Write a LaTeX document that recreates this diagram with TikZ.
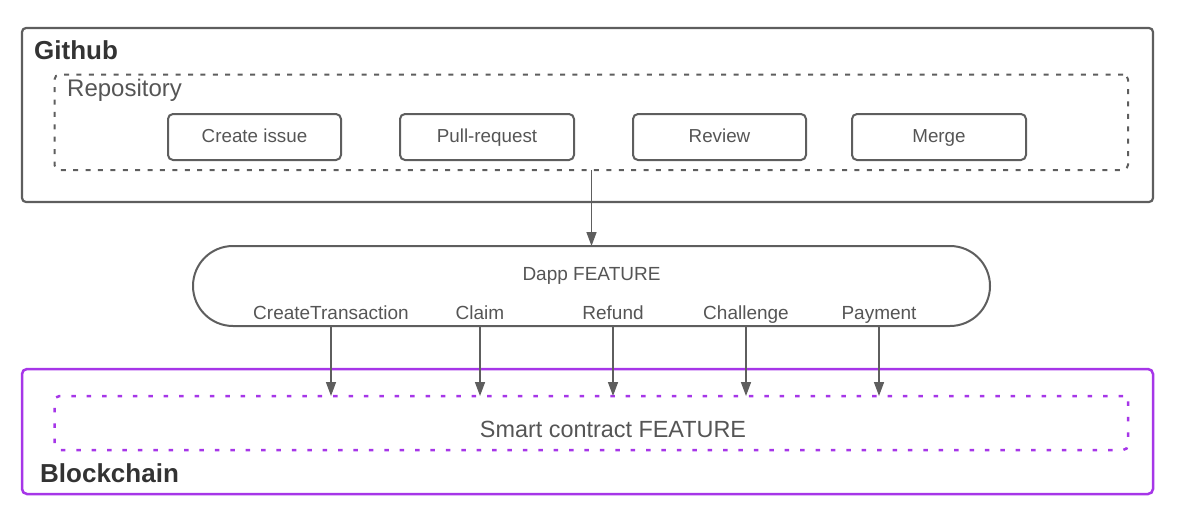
\documentclass[tikz,border=0pt]{standalone}
\usepackage{fontspec}
\setmainfont{Liberation Sans}
\usetikzlibrary{arrows.meta}
\definecolor{lineg}{HTML}{5E5E5E}
\definecolor{txtg}{HTML}{555555}
\definecolor{txtb}{HTML}{333333}
\definecolor{purp}{HTML}{A636E8}
\tikzset{
  outerbox/.style={draw=lineg, line width=2.2pt, rounded corners=4pt, inner sep=0pt, outer sep=0pt},
  dashbox/.style={draw=lineg, line width=2pt, rounded corners=5pt, dash pattern=on 5pt off 7.4pt, inner sep=0pt, outer sep=0pt},
  stepbox/.style={draw=lineg, line width=2pt, rounded corners=5pt, minimum width=173pt, minimum height=46pt, inner sep=0pt, outer sep=0pt, text=txtg, font=\fontsize{18.8}{22}\selectfont, text height=14pt, text depth=2.6pt},
  pbox/.style={draw=purp, line width=2.5pt, rounded corners=5pt, inner sep=0pt, outer sep=0pt},
  pdash/.style={draw=purp, line width=2.5pt, rounded corners=5pt, dash pattern=on 4.5pt off 10.9pt, inner sep=0pt, outer sep=0pt},
  title/.style={text=txtb, font=\fontsize{26}{30}\selectfont\bfseries, inner sep=0pt, anchor=base west},
  lbl/.style={text=txtg, font=\fontsize{19}{22}\selectfont, inner sep=0pt, anchor=base},
  conn/.style={draw=lineg, line width=1.5pt, -{Triangle[width=10pt,length=14pt]}},
}
\begin{document}
\begin{tikzpicture}[x=1pt,y=-1pt]
\useasboundingbox (0,0) rectangle (1178,522);
% Github
\node[outerbox, minimum width=1131pt, minimum height=174pt] (github) at (587.5,115) {};
\node[title] (githubt) at (34,59) {Github};
\node[dashbox, minimum width=1073.5pt, minimum height=95.5pt] (repo) at (591.25,122.25) {};
\node[text=txtg, font=\fontsize{24}{28}\selectfont, inner sep=0pt, anchor=base west] (repot) at (67,96) {Repository};
\node[stepbox] (create) at (254.5,137) {Create issue};
\node[stepbox, minimum width=174pt] (pull) at (487,137) {Pull-request};
\node[stepbox] (review) at (719.5,137) {Review};
\node[stepbox, minimum width=174pt] (merge) at (939,137) {Merge};
% Dapp
\node[draw=lineg, line width=2pt, rounded corners=40pt, minimum width=797pt, minimum height=80pt, inner sep=0pt, outer sep=0pt] (dapp) at (591.5,286) {};
\node[lbl] (dappt) at (591.5,280.5) {Dapp FEATURE};
\node[lbl] (l1) at (331,319.5) {CreateTransaction};
\node[lbl] (l2) at (480,319.5) {Claim};
\node[lbl] (l3) at (613,319.5) {Refund};
\node[lbl] (l4) at (746,319.5) {Challenge};
\node[lbl] (l5) at (879,319.5) {Payment};
% Blockchain
\node[pbox, minimum width=1131pt, minimum height=125pt] (chain) at (587.5,431.5) {};
\node[pdash, minimum width=1073.5pt, minimum height=54pt] (smart) at (591.25,423) {};
\node[text=txtg, font=\fontsize{23.4}{28}\selectfont, inner sep=0pt, anchor=base] (smartt) at (613,437) {Smart contract FEATURE};
\node[title] (chaint) at (40,482) {Blockchain};
% connectors
\draw[conn] (repo.south -| dapp.north) -- (dapp.north);
\foreach \n in {l1,l2,l3,l4,l5}{
  \draw[conn] (dapp.south -| \n) -- (smart.north -| \n);
}
\end{tikzpicture}
\end{document}
